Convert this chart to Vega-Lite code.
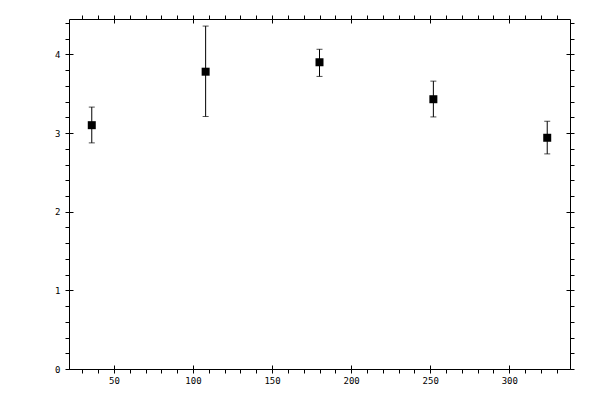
{
  "$schema": "https://vega.github.io/schema/vega-lite/v6.json",
  "width": 501,
  "height": 350,
  "autosize": "none",
  "padding": {"left": 69, "top": 19, "right": 30, "bottom": 31},
  "background": "white",
  "data": {
    "values": [
      {"x": 36, "y": 3.1, "lo": 2.875, "hi": 3.33},
      {"x": 108, "y": 3.78, "lo": 3.21, "hi": 4.36},
      {"x": 180, "y": 3.9, "lo": 3.72, "hi": 4.065},
      {"x": 252, "y": 3.43, "lo": 3.205, "hi": 3.66},
      {"x": 324, "y": 2.94, "lo": 2.735, "hi": 3.15}
    ]
  },
  "layer": [
    {
      "mark": {"type": "rule", "color": "black", "strokeWidth": 1},
      "encoding": {
        "x": {"field": "x", "type": "quantitative", "scale": {"domain": [21.6, 338.4], "nice": false, "zero": false},
              "axis": {"orient": "bottom", "values": [50, 100, 150, 200, 250, 300], "tickSize": 4, "labelPadding": 3}},
        "y": {"field": "lo", "type": "quantitative", "scale": {"domain": [0, 4.45], "nice": false},
              "axis": {"orient": "left", "values": [0, 1, 2, 3, 4], "tickSize": 4, "labelPadding": 5}},
        "y2": {"field": "hi"}
      }
    },
    {
      "mark": {"type": "tick", "orient": "horizontal", "color": "black", "size": 6, "thickness": 1},
      "encoding": {
        "x": {"field": "x", "type": "quantitative",
              "axis": {"orient": "bottom", "values": [50, 100, 150, 200, 250, 300], "tickSize": -4, "labels": false}},
        "y": {"field": "lo", "type": "quantitative",
              "axis": {"orient": "left", "values": [0, 1, 2, 3, 4], "tickSize": -4, "labels": false}}
      }
    },
    {
      "mark": {"type": "tick", "orient": "horizontal", "color": "black", "size": 6, "thickness": 1},
      "encoding": {
        "x": {"field": "x", "type": "quantitative",
              "axis": {"orient": "top", "values": [50, 100, 150, 200, 250, 300], "tickSize": 4, "labels": false}},
        "y": {"field": "hi", "type": "quantitative",
              "axis": {"orient": "right", "values": [0, 1, 2, 3, 4], "tickSize": 4, "labels": false}}
      }
    },
    {
      "mark": {"type": "point", "shape": "square", "filled": true, "color": "black", "opacity": 1, "size": 64},
      "encoding": {
        "x": {"field": "x", "type": "quantitative",
              "axis": {"orient": "top", "values": [50, 100, 150, 200, 250, 300], "tickSize": -4, "labels": false}},
        "y": {"field": "y", "type": "quantitative",
              "axis": {"orient": "right", "values": [0, 1, 2, 3, 4], "tickSize": -4, "labels": false}}
      }
    },
    {
      "mark": {"type": "point", "opacity": 0},
      "encoding": {
        "x": {"field": "x", "type": "quantitative",
              "axis": {"orient": "bottom", "values": [30, 40, 60, 70, 80, 90, 110, 120, 130, 140, 160, 170, 180, 190, 210, 220, 230, 240, 260, 270, 280, 290, 310, 320, 330], "tickSize": 4, "labels": false}},
        "y": {"field": "y", "type": "quantitative",
              "axis": {"orient": "left", "values": [0.2, 0.4, 0.6, 0.8, 1.2, 1.4, 1.6, 1.8, 2.2, 2.4, 2.6, 2.8, 3.2, 3.4, 3.6, 3.8, 4.2, 4.4], "tickSize": 4, "labels": false}}
      }
    },
    {
      "mark": {"type": "point", "opacity": 0},
      "encoding": {
        "x": {"field": "x", "type": "quantitative",
              "axis": {"orient": "top", "values": [30, 40, 60, 70, 80, 90, 110, 120, 130, 140, 160, 170, 180, 190, 210, 220, 230, 240, 260, 270, 280, 290, 310, 320, 330], "tickSize": 4, "labels": false}},
        "y": {"field": "y", "type": "quantitative",
              "axis": {"orient": "right", "values": [0.2, 0.4, 0.6, 0.8, 1.2, 1.4, 1.6, 1.8, 2.2, 2.4, 2.6, 2.8, 3.2, 3.4, 3.6, 3.8, 4.2, 4.4], "tickSize": 4, "labels": false}}
      }
    }
  ],
  "resolve": {"axis": {"x": "independent", "y": "independent"}},
  "config": {
    "view": {"stroke": "black", "strokeWidth": 1},
    "axis": {
      "title": null,
      "grid": false,
      "domain": false,
      "tickColor": "black",
      "tickWidth": 1,
      "labelFont": "DejaVu Sans Mono",
      "labelFontSize": 9,
      "labelColor": "black",
      "labelFlush": false,
      "labelOverlap": false
    }
  }
}
